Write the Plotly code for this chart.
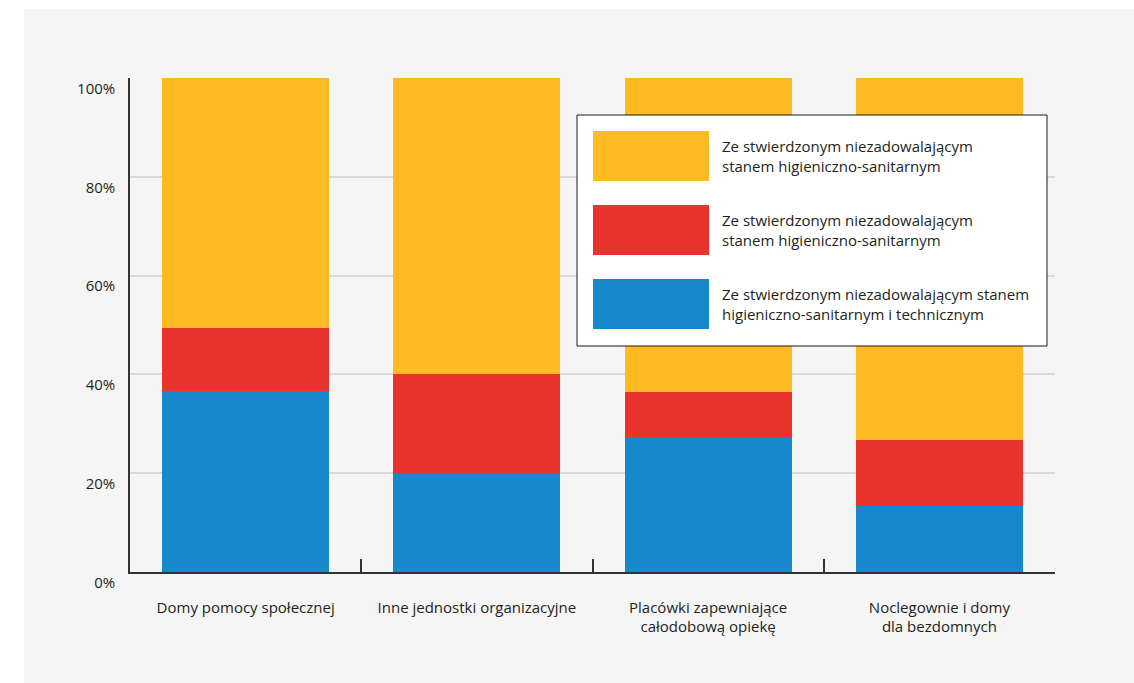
import plotly.graph_objects as go

# Kategorie placówek (oś X)
categories = [
    "Domy pomocy społecznej",
    "Inne jednostki organizacyjne",
    "Placówki zapewniające<br>całodobową opiekę",
    "Noclegownie i domy<br>dla bezdomnych",
]

# Udział procentowy poszczególnych grup (od dołu słupka)
blue_values = [36.6, 20.0, 27.3, 13.4]
red_values = [12.8, 20.0, 9.1, 13.3]
yellow_values = [50.6, 60.0, 63.6, 73.3]

series_names = [
    "Ze stwierdzonym niezadowalającym<br>stanem higieniczno-sanitarnym",
    "Ze stwierdzonym niezadowalającym<br>stanem higieniczno-sanitarnym",
    "Ze stwierdzonym niezadowalającym stanem<br>higieniczno-sanitarnym i technicznym",
]

y_ticks = [0, 20, 40, 60, 80, 100]
y_tick_labels = ["0%", "20%", "40%", "60%", "80%", "100%"]

YELLOW = "#FCBB22"
RED = "#E8342C"
BLUE = "#1789CB"
TEXT = "#231f20"
FONT = "Open Sans"
FS = 15

W, H = 1134, 683
M_L, M_R, M_T, M_B = 130, 79, 78, 111
PW = W - M_L - M_R
PH = H - M_T - M_B


def px_x(x):
    return (x - M_L) / PW


def px_y(y):
    return (H - M_B - y) / PH


fig = go.Figure()
for vals, color, name in [
    (blue_values, BLUE, series_names[2]),
    (red_values, RED, series_names[1]),
    (yellow_values, YELLOW, series_names[0]),
]:
    fig.add_trace(go.Bar(
        x=categories, y=vals, name=name,
        marker=dict(color=color, line=dict(width=0)),
        showlegend=False,
    ))

shapes = [
    # white margin strips around the grey panel
    dict(type="rect", xref="paper", yref="paper", layer="below",
         x0=px_x(0), x1=px_x(24), y0=px_y(H), y1=px_y(0),
         fillcolor="white", line=dict(width=0)),
    dict(type="rect", xref="paper", yref="paper", layer="below",
         x0=px_x(0), x1=px_x(W), y0=px_y(9), y1=px_y(0),
         fillcolor="white", line=dict(width=0)),
    # legend box
    dict(type="rect", xref="paper", yref="paper", layer="above",
         x0=px_x(577), x1=px_x(1047), y0=px_y(346), y1=px_y(115),
         fillcolor="white", line=dict(color="#1a1a1a", width=1)),
]

annotations = []
legend_rows = [(YELLOW, series_names[0], 131),
               (RED, series_names[1], 205),
               (BLUE, series_names[2], 279)]
for color, label, top in legend_rows:
    shapes.append(dict(
        type="rect", xref="paper", yref="paper", layer="above",
        x0=px_x(593), x1=px_x(709), y0=px_y(top + 50), y1=px_y(top),
        fillcolor=color, line=dict(width=0)))
    annotations.append(dict(
        xref="paper", yref="paper", x=px_x(721), y=px_y(top + 25),
        xanchor="left", yanchor="middle", align="left", showarrow=False,
        borderpad=0,
        text=label, font=dict(family=FONT, size=FS, color=TEXT)))

fig.update_layout(
    width=W, height=H,
    margin=dict(l=M_L, r=M_R, t=M_T, b=M_B, pad=0),
    paper_bgcolor="#f5f5f5",
    plot_bgcolor="#f5f5f5",
    barmode="stack",
    bargap=0.278,
    font=dict(family=FONT, size=FS, color=TEXT),
    shapes=shapes,
    annotations=annotations,
    xaxis=dict(
        type="category",
        tickson="boundaries",
        ticks="inside", ticklen=13, tickwidth=1.5, tickcolor="#333333",
        showline=True, linecolor="#333333", linewidth=1.5,
        showgrid=False,
        ticklabelstandoff=21,
        tickfont=dict(family=FONT, size=FS, color=TEXT),
    ),
    yaxis=dict(
        range=[0, 100],
        tickvals=y_ticks, ticktext=y_tick_labels,
        showline=True, linecolor="#333333", linewidth=1.5,
        showgrid=True, gridcolor="#d9d9d9", gridwidth=1.5,
        zeroline=False,
        ticks="", ticklabelstandoff=10,
        ticklabelposition="outside bottom",
        tickfont=dict(family=FONT, size=FS, color=TEXT),
    ),
)

fig.write_html("out.html")
